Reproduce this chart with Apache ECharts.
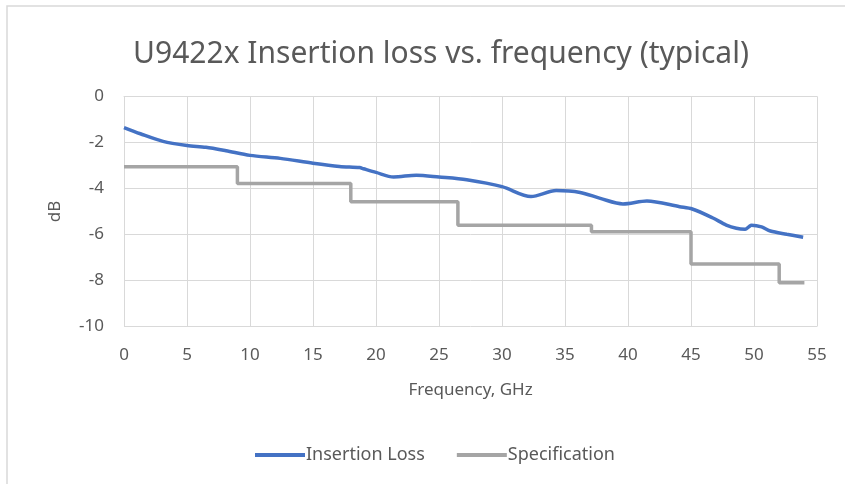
<!DOCTYPE html>
<html>
<head>
<meta charset="utf-8">
<script src="https://cdn.jsdelivr.net/npm/echarts@6/dist/echarts.min.js"></script>
<style>html,body{margin:0;padding:0;background:#fff;}#c{width:845px;height:484px;}</style>
</head>
<body>
<div id="c"></div>
<script>
// Insertion loss (blue)
var lossFreq = [0, 1.3, 3.1, 5, 6.5, 8.1, 10, 12.4, 15, 17.1, 18.7, 19.0, 20, 21.4, 23.2, 25, 27.2, 30, 32.3, 34.3, 36.2, 37.8, 39.6, 41.5, 44.1, 45.1, 46.7, 47.8, 48.6, 49.3, 49.6, 49.8, 50.6, 51.3, 52.6, 53.9];
var lossDb   = [-1.35, -1.62, -1.95, -2.13, -2.21, -2.36, -2.56, -2.69, -2.9, -3.04, -3.09, -3.14, -3.3, -3.5, -3.42, -3.5, -3.62, -3.92, -4.35, -4.09, -4.17, -4.43, -4.67, -4.54, -4.79, -4.89, -5.27, -5.59, -5.73, -5.77, -5.66, -5.6, -5.67, -5.85, -5.99, -6.12];
// Specification (gray) step line
var specFreq = [0, 9, 9, 18, 18, 26.5, 26.5, 37.1, 37.1, 45, 45, 52, 52, 54];
var specDb   = [-3.05, -3.05, -3.78, -3.78, -4.58, -4.58, -5.6, -5.6, -5.88, -5.88, -7.28, -7.28, -8.1, -8.1];
var xTicks = [0, 5, 10, 15, 20, 25, 30, 35, 40, 45, 50, 55];
var yTicks = [0, -2, -4, -6, -8, -10];

function pairs(xs, ys){ return xs.map(function(x,i){ return [x, ys[i]]; }); }

var FONT = 'Noto Sans';
var TXT = '#595959';
var chart = echarts.init(document.getElementById('c'), null, {renderer:'canvas'});
chart.setOption({
  animation: false,
  backgroundColor: '#fff',
  graphic: [{
    type: 'rect', shape: {x: 7, y: 6, width: 900, height: 600},
    style: {fill: 'none', stroke: '#d9d9d9', lineWidth: 1.5}, silent: true, z: -10
  }],
  title: {
    text: 'U9422x Insertion loss vs. frequency (typical)',
    left: 436, top: 34, textAlign: 'center',
    textStyle: {fontFamily: FONT, fontSize: 30, fontWeight: 'normal', color: TXT}
  },
  legend: {
    left: 250, top: 441,
    icon: 'rect', itemWidth: 50, itemHeight: 4, itemGap: 32,
    textStyle: {fontFamily: FONT, fontSize: 18, color: TXT, padding: [0,0,0,-4]},
    data: ['Insertion Loss', 'Specification']
  },
  grid: {left: 124, right: 28, top: 96.5, bottom: 157.5, containLabel: false},
  xAxis: {
    type: 'value', min: xTicks[0], max: xTicks[xTicks.length-1], interval: 5,
    name: 'Frequency, GHz', nameLocation: 'middle', nameGap: 55,
    nameTextStyle: {fontFamily: FONT, fontSize: 17, color: TXT},
    axisLine: {show: true, lineStyle: {color: '#d9d9d9', width: 1}},
    axisTick: {show: false},
    axisLabel: {margin: 20, fontFamily: FONT, fontSize: 17, color: TXT},
    splitLine: {show: true, lineStyle: {color: '#d9d9d9', width: 1}}
  },
  yAxis: {
    type: 'value', min: yTicks[yTicks.length-1], max: yTicks[0], interval: 2,
    name: 'dB', nameLocation: 'middle', nameGap: 60, nameRotate: 90,
    nameTextStyle: {fontFamily: FONT, fontSize: 17, color: TXT},
    axisLine: {show: true, lineStyle: {color: '#d9d9d9', width: 1}},
    axisTick: {show: false},
    axisLabel: {margin: 20, fontFamily: FONT, fontSize: 17, color: TXT},
    splitLine: {show: true, lineStyle: {color: '#d9d9d9', width: 1}}
  },
  series: [
    {name: 'Insertion Loss', type: 'line', data: pairs(lossFreq, lossDb), smooth: 0.3,
     symbol: 'none', lineStyle: {color: '#4472C4', width: 3.5}, itemStyle: {color: '#4472C4'}},
    {name: 'Specification', type: 'line', data: pairs(specFreq, specDb),
     symbol: 'none', lineStyle: {color: '#A5A5A5', width: 3.5}, itemStyle: {color: '#A5A5A5'}}
  ]
});
</script>
</body>
</html>
